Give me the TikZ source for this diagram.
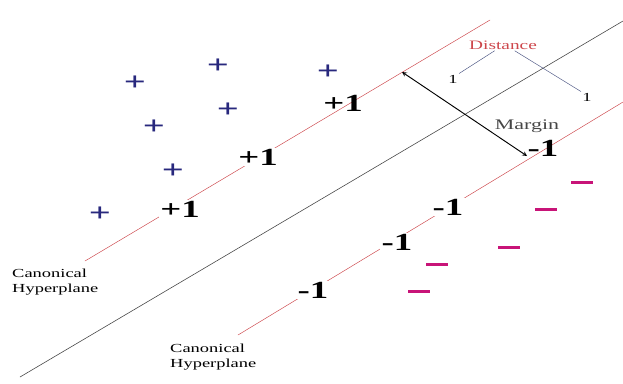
\documentclass[tikz,border=0pt]{standalone}
\usepackage{fontspec}
\setmainfont{Liberation Serif}
\usepackage{tikz}
\usetikzlibrary{arrows,positioning}
\definecolor{planered}{RGB}{205, 70, 75}
\definecolor{plusblue}{RGB}{40, 40, 125}
\definecolor{minusmagenta}{RGB}{200, 20, 120}
\definecolor{darkgray}{RGB}{70, 70, 70}
\definecolor{leaderblue}{RGB}{75, 85, 130}
% text in the diagram is set wide
\newcommand{\wide}[1]{\scalebox{1.5}[1]{#1}}

\begin{document}
\begin{tikzpicture}[x=0.03cm, y=-0.03cm, >=stealth',
    plusmark/.style={text=plusblue, inner sep=0pt, font=\bfseries\fontsize{22}{22}\selectfont},
    minusmark/.style={fill=minusmagenta, inner sep=0pt, minimum width=0.66cm, minimum height=0.09cm},
    classlabel/.style={fill=white, inner sep=1pt, font=\bfseries\fontsize{21}{21}\selectfont},
    planelabel/.style={anchor=west, align=left, inner sep=0pt, font=\fontsize{10.5}{12.8}\selectfont}]
    \useasboundingbox (0,0) rectangle (623,383);

    % the three hyperplanes
    \coordinate (midA) at (20,377);
    \coordinate (midB) at (623,21);
    \coordinate (upA) at (85,261);
    \coordinate (upB) at (490,20);
    \coordinate (lowA) at (238,335);
    \coordinate (lowB) at (623,102);
    \draw[darkgray, line width=0.5pt] (midA) -- (midB);
    \draw[planered] (upA) -- (upB);
    \draw[planered] (lowA) -- (lowB);

    % positive class
    \node[plusmark] (p1) at (135,83) {\wide{+}};
    \node[plusmark] (p2) at (218,66) {\wide{+}};
    \node[plusmark] (p3) at (328,72) {\wide{+}};
    \node[plusmark] (p4) at (228,110) {\wide{+}};
    \node[plusmark] (p5) at (154,127) {\wide{+}};
    \node[plusmark] (p6) at (173,171) {\wide{+}};
    \node[plusmark] (p7) at (100,214) {\wide{+}};
    \node[classlabel, fill=none] (sv1) at (343,103) {\wide{+1}};
    \node[classlabel] (sv2) at (258,157) {\wide{+1}};
    \node[classlabel] (sv3) at (180,209) {\wide{+1}};

    % negative class
    \node[minusmark] (m1) at (582,182) {};
    \node[minusmark] (m2) at (546,209) {};
    \node[minusmark] (m3) at (509,247) {};
    \node[minusmark] (m4) at (437,264) {};
    \node[minusmark] (m5) at (419,291) {};
    \node[classlabel, fill=none] (sv4) at (543,148) {\wide{-1}};
    \node[classlabel] (sv5) at (448,207) {\wide{-1}};
    \node[classlabel] (sv6) at (397,242) {\wide{-1}};
    \node[classlabel] (sv7) at (313,290) {\wide{-1}};

    % margin and distance
    \coordinate (arrTop) at (402,72);
    \coordinate (arrBot) at (527,156);
    \draw[<->, thick, >=stealth] (arrTop) -- (arrBot);
    \node[text=darkgray, font=\fontsize{12.5}{14}\selectfont] (margin) at (527,126) {\wide{Margin}};
    \node[text=planered, font=\fontsize{11}{13}\selectfont, inner sep=1pt] (distance) at (503,45) {\wide{Distance}};
    \node[font=\fontsize{10.5}{12}\selectfont, inner sep=1pt] (oneL) at (453,79) {\wide{1}};
    \node[font=\fontsize{10.5}{12}\selectfont, inner sep=1pt] (oneR) at (587,97) {\wide{1}};
    \draw[leaderblue] ([xshift=-0.25cm]distance.south) -- (oneL.north east);
    \draw[leaderblue] ([xshift=0.35cm]distance.south) -- (oneR.north west);

    \node[planelabel] (canonUp) at (12,282) {\wide{Canonical}\\\wide{Hyperplane}};
    \node[planelabel] (canonLow) at (170,357) {\wide{Canonical}\\\wide{Hyperplane}};
\end{tikzpicture}
\end{document}
